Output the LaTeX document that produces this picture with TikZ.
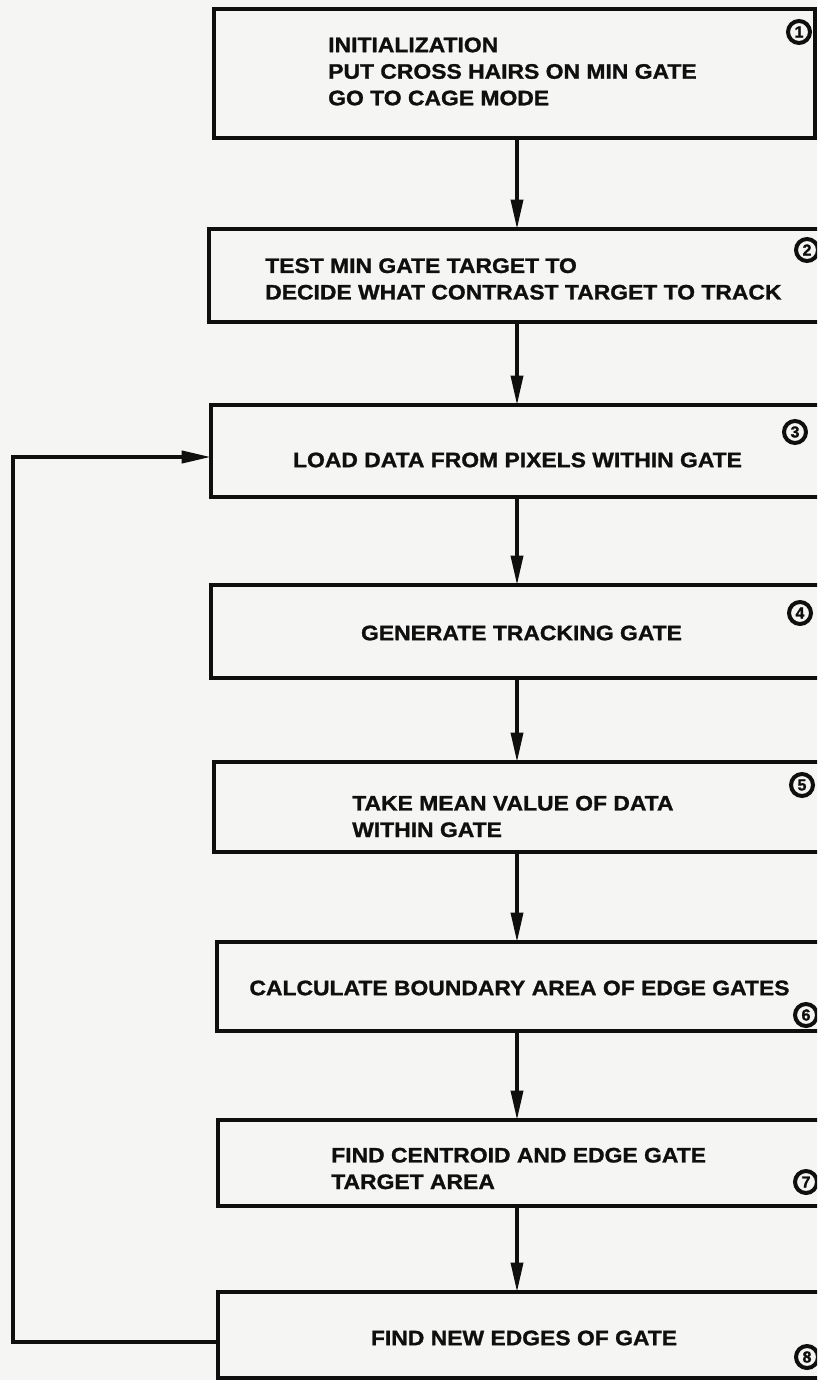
\documentclass[tikz,border=0pt]{standalone}
\usepackage{fontspec}
\newfontfamily\lbl{Liberation Sans}[FakeStretch=1.09,FakeBold=1.2]
\newfontfamily\numfont{Liberation Sans}[FakeBold=1.5]
\usetikzlibrary{arrows.meta,fit}
\definecolor{paper}{RGB}{245,245,243}
\definecolor{ink}{RGB}{15,15,15}
\begin{document}
\begin{tikzpicture}[x=0.75pt,y=-0.75pt,
  stepbox/.style={draw=ink, line width=2.6pt, inner sep=0pt, outer sep=0pt},
  steptext/.style={font=\lbl\bfseries\fontsize{15.75}{19.9}\selectfont, inner sep=0pt, text=ink},
  numcirc/.style={circle, draw=ink, line width=3pt, minimum size=16.5pt, inner sep=0pt, font=\numfont\bfseries\fontsize{12}{12}\selectfont, text=ink},
  flow/.style={draw=ink, line width=2.6pt, -{Triangle[length=22pt,width=9pt]}},
  loopline/.style={draw=ink, line width=3pt, -{Triangle[length=22pt,width=9pt]}}
]
\useasboundingbox (0,0) rectangle (817,1380);
\fill[paper] (0,0) rectangle (817,1380);
\clip (0,0) rectangle (817,1380);

% boxes
\node[stepbox, fit={(214,9)(815,138)}] (b1) {};
\node[stepbox, fit={(209,229)(845,322)}] (b2) {};
\node[stepbox, fit={(211,405)(845,497)}] (b3) {};
\node[stepbox, fit={(211,585)(845,678)}] (b4) {};
\node[stepbox, fit={(214,762)(845,852)}] (b5) {};
\node[stepbox, fit={(217,942)(845,1031)}] (b6) {};
\node[stepbox, fit={(218,1120)(845,1206)}] (b7) {};
\node[stepbox, fit={(218,1292)(845,1378)}] (b8) {};

% texts
\node[steptext, anchor=west, align=left] (t1) at (328,71.5) {INITIALIZATION\\PUT CROSS HAIRS ON MIN GATE\\GO TO CAGE MODE};
\node[steptext, anchor=west, align=left] (t2) at (265,279) {TEST MIN GATE TARGET TO\\DECIDE WHAT CONTRAST TARGET TO TRACK};
\node[steptext] (t3) at (517.5,460) {LOAD DATA FROM PIXELS WITHIN GATE};
\node[steptext] (t4) at (521.5,633) {GENERATE TRACKING GATE};
\node[steptext, anchor=west, align=left] (t5) at (352,816.5) {TAKE MEAN VALUE OF DATA\\WITHIN GATE};
\node[steptext] (t6) at (519.5,988) {CALCULATE BOUNDARY AREA OF EDGE GATES};
\node[steptext, anchor=west, align=left] (t7) at (331,1168.5) {FIND CENTROID AND EDGE GATE\\TARGET AREA};
\node[steptext] (t8) at (524,1338) {FIND NEW EDGES OF GATE};

% step numbers
\node[numcirc] (n1) at (799,32) {1};
\node[numcirc] (n2) at (807,250) {2};
\node[numcirc] (n3) at (795,432) {3};
\node[numcirc] (n4) at (800,613) {4};
\node[numcirc] (n5) at (802,785) {5};
\node[numcirc] (n6) at (806,1015) {6};
\node[numcirc] (n7) at (806,1182) {7};
\node[numcirc] (n8) at (807,1357) {8};

% connectors
\coordinate (ax) at (517,0);
\draw[flow] (b1.south -| ax) -- (b2.north -| ax);
\draw[flow] (b2.south -| ax) -- (b3.north -| ax);
\draw[flow] (b3.south -| ax) -- (b4.north -| ax);
\draw[flow] (b4.south -| ax) -- (b5.north -| ax);
\draw[flow] (b5.south -| ax) -- (b6.north -| ax);
\draw[flow] (b6.south -| ax) -- (b7.north -| ax);
\draw[flow] (b7.south -| ax) -- (b8.north -| ax);
\draw[loopline] ([yshift=-5.25pt]b8.west) -- ++(-205,0) |- ([yshift=-4.5pt]b3.west);
\end{tikzpicture}
\end{document}
